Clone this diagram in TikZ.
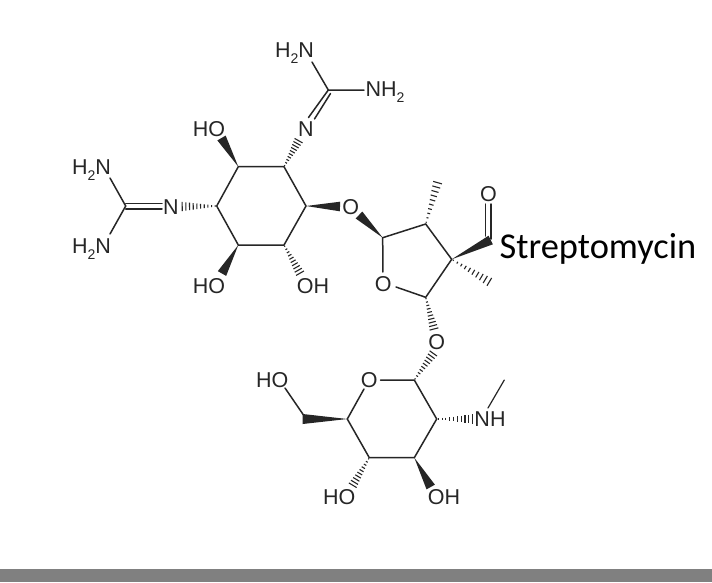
\documentclass[tikz,border=0pt]{standalone}
\usepackage{fontspec}
\setmainfont{Liberation Sans}
\newfontfamily\titlefont{Carlito}
\usetikzlibrary{calc}
\definecolor{ink}{HTML}{262626}
\definecolor{barcol}{HTML}{808080}
\newcommand{\lowtwo}{\raisebox{-0.28em}{\fontsize{14}{14}\selectfont 2}}
\newcommand{\wedgebond}[3][4.8]{\fill[ink] (#2) -- ($(#3)!#1pt!90:(#2)$) -- ($(#3)!#1pt!-90:(#2)$) -- cycle;}
\newcommand{\hashbond}[2]{%
  \foreach \t in {0.04,0.14,...,1.0}{
    \path (#1) -- (#2) coordinate[pos=\t] (hp);
    \pgfmathsetmacro{\hw}{0.4+4.4*\t}
    \draw[ink,line width=1.1pt] ($(hp)!\hw pt!90:(#2)$) -- ($(hp)!\hw pt!-90:(#2)$);
  }}
\tikzset{
  atom/.style={font=\fontsize{21.5}{21.5}\selectfont,text=ink,inner sep=0pt},
  bond/.style={draw=ink,line width=1.5pt,line cap=round},
  title/.style={font=\titlefont\fontsize{36.4}{37}\selectfont,text=black,inner sep=0pt,anchor=base west}
}
\begin{document}
\begin{tikzpicture}[x=1pt,y=-1pt]
\useasboundingbox (0,0) rectangle (712,582);
\fill[white] (0,0) rectangle (712,582);
\fill[barcol] (0,569) rectangle (712,582);
% ring 1
\coordinate (a) at (238.3,166.7);
\coordinate (b) at (284,166.7);
\coordinate (c) at (306,206);
\coordinate (d) at (284,245);
\coordinate (e) at (238.3,245);
\coordinate (f) at (216.7,206);
\draw[bond] (a) -- (b) -- (c) -- (d) -- (e) -- (f) -- cycle;
% labels
\node[atom] (hoa) at (209,129) {HO};
\node[atom] (hob) at (209,285.7) {HO};
\node[atom] (ohc) at (313,285.7) {OH};
\node[atom] (nu) at (306,129) {N};
\node[atom] (nl) at (171,206.7) {N};
\node[atom] (h2nu) at (294.5,53.5) {H\lowtwo N};
\node[atom] (nh2u) at (385,92) {NH\lowtwo};
\node[atom] (h2nl) at (91.5,170.5) {H\lowtwo N};
\node[atom] (h2nm) at (91.5,249) {H\lowtwo N};
\node[atom] (oa) at (350.7,206.7) {O};
\node[atom] (orf) at (383.3,284.3) {O};
\node[atom] (oald) at (488.5,194) {O};
\node[atom] (ob) at (436.7,341.7) {O};
\node[atom] (orp) at (369.3,380) {O};
\node[atom] (hoch) at (272.3,380) {HO};
\node[atom] (nh) at (490,419.5) {NH};
\node[atom] (hom) at (339.3,496.7) {HO};
\node[atom] (ohm) at (444,496.7) {OH};
\node[title] (name) at (499.5,258) {Streptomycin};
% upper guanidine
\coordinate (cu) at (328.3,90);
\coordinate (cua) at (312,62);
\coordinate (cub) at (364,90);
\coordinate (cud) at (308.5,117.5);
\coordinate (cue) at (330.5,93.5);
\coordinate (cuf) at (314.5,119);
\draw[bond] (cua) -- (cu) -- (cub);
\draw[bond] (cu) -- (cud);
\draw[bond] (cue) -- (cuf);
% left guanidine
\coordinate (cl) at (125.7,206);
\coordinate (cla) at (110,178);
\coordinate (clb) at (110,234);
\coordinate (clc) at (125.7,203.4);
\coordinate (cld) at (162,203.4);
\coordinate (cle) at (125.7,209);
\coordinate (clf) at (162,209);
\draw[bond] (cla) -- (cl) -- (clb);
\draw[bond] (clc) -- (cld);
\draw[bond] (cle) -- (clf);
% furanose
\coordinate (g) at (382.7,237.7);
\coordinate (h) at (425.7,224);
\coordinate (i) at (451.7,259.3);
\coordinate (j) at (425.7,297.3);
\coordinate (ga) at (382.9,272);
\coordinate (ja) at (396,287);
\draw[bond] (ga) -- (g) -- (h) -- (i) -- (j) -- (ja);
\coordinate (ald) at (490.7,240);
\coordinate (alda) at (491,239);
\coordinate (aldb) at (491,204);
\coordinate (aldc) at (485.6,236);
\coordinate (aldd) at (485.6,204);
\draw[bond] (alda) -- (aldb);
\draw[bond] (aldc) -- (aldd);
% pyranose
\coordinate (k) at (414.3,380);
\coordinate (l) at (436.7,419);
\coordinate (m) at (414.3,457.7);
\coordinate (n) at (369.3,457.7);
\coordinate (o) at (347.3,419);
\coordinate (ka) at (380.5,380);
\coordinate (oa2) at (364,389);
\draw[bond] (ka) -- (k) -- (l) -- (m) -- (n) -- (o) -- (oa2);
\coordinate (ch) at (302.7,419);
\coordinate (cha) at (303.5,415);
\coordinate (chb) at (285,388);
\draw[bond] (cha) -- (chb);
\coordinate (me) at (504.3,380);
\coordinate (mea) at (488,408);
\draw[bond,line width=1.2pt] (mea) -- (me);
% wedge ends
\coordinate (wa) at (221.5,138);
\coordinate (wb) at (222,273.5);
\coordinate (wc) at (340,206.5);
\coordinate (wd) at (359,215);
\coordinate (we) at (430.7,487);
% hash ends
\coordinate (xa) at (299.5,139);
\coordinate (xb) at (180,206.5);
\coordinate (xc) at (301,275);
\coordinate (xd) at (438.3,180);
\coordinate (xe) at (491.7,283.3);
\coordinate (xf) at (434.5,331);
\coordinate (xg) at (434.5,351.7);
\coordinate (xh) at (475,419);
\coordinate (xi) at (351.7,487);
\wedgebond{a}{wa}
\wedgebond{e}{wb}
\wedgebond{c}{wc}
\wedgebond{g}{wd}
\wedgebond{i}{ald}
\wedgebond{m}{we}
\wedgebond[5]{o}{ch}
\hashbond{b}{xa}
\hashbond{f}{xb}
\hashbond{d}{xc}
\hashbond{h}{xd}
\hashbond{i}{xe}
\hashbond{j}{xf}
\hashbond{k}{xg}
\hashbond{l}{xh}
\hashbond{n}{xi}
\end{tikzpicture}
\end{document}
